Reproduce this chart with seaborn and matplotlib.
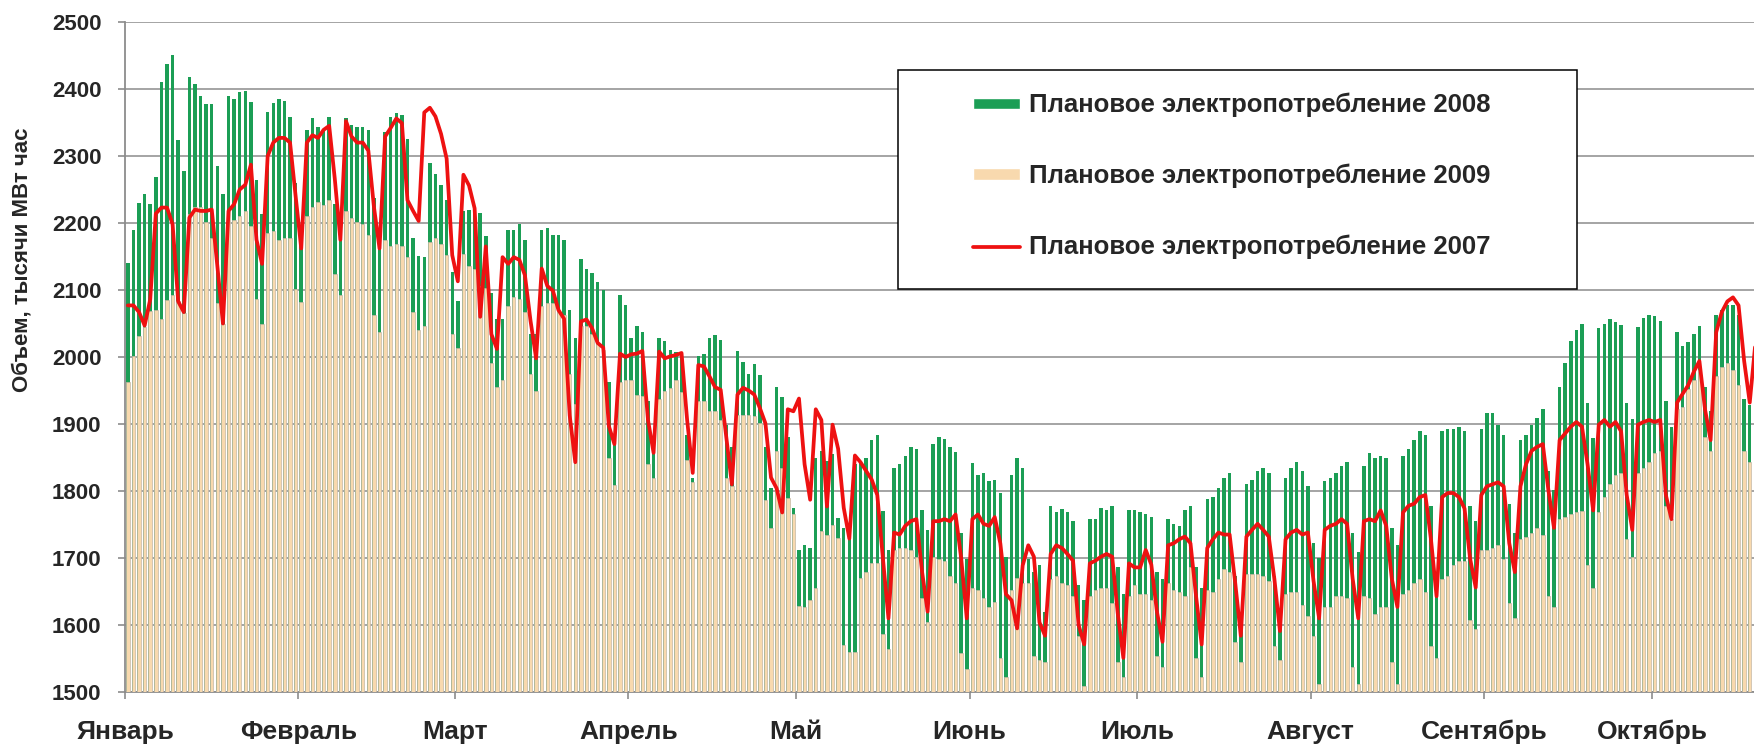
import numpy as np
import seaborn as sns
import matplotlib.pyplot as plt
from matplotlib.patches import Patch, Rectangle
from matplotlib.lines import Line2D

# Подписи месяцев и номер первого дня месяца (день 0 = 1 января)
months = ["Январь", "Февраль", "Март", "Апрель", "Май", "Июнь",
          "Июль", "Август", "Сентябрь", "Октябрь"]
month_start = [0, 31, 59, 90, 120, 151, 181, 212, 243, 273]

# Плановое электропотребление 2008 (зелёные столбцы), тыс. МВт*ч по дням
plan_2008 = [
    2140, 2189, 2230, 2243, 2229, 2269, 2411, 2438, 2451, 2324,
    2278, 2418, 2407, 2390, 2377, 2377, 2285, 2243, 2390, 2385,
    2395, 2397, 2380, 2264, 2213, 2365, 2379, 2385, 2382, 2358,
    2259, 2178, 2339, 2356, 2344, 2339, 2358, 2228, 2201, 2356,
    2346, 2343, 2343, 2339, 2237, 2182, 2336, 2358, 2364, 2361,
    2325, 2178, 2151, 2149, 2289, 2273, 2256, 2235, 2127, 2084,
    2218, 2220, 2218, 2215, 2180, 2096, 2057, 2057, 2189, 2189,
    2198, 2175, 2034, 2034, 2189, 2193, 2182, 2182, 2175, 2070,
    2029, 2146, 2131, 2125, 2112, 2100, 1962, 1880, 2092, 2077,
    2029, 2047, 2038, 1935, 1857, 2029, 2024, 2011, 2008, 2005,
    1883, 1820, 2001, 2005, 2028, 2033, 2026, 1899, 1866, 2009,
    1992, 1975, 1989, 1973, 1865, 1805, 1955, 1940, 1880, 1775,
    1712, 1719, 1715, 1850, 1860, 1845, 1855, 1760, 1745, 1735,
    1840, 1842, 1850, 1876, 1883, 1770, 1712, 1834, 1840, 1853,
    1865, 1863, 1771, 1742, 1870, 1881, 1878, 1866, 1858, 1738,
    1699, 1842, 1824, 1827, 1815, 1817, 1797, 1702, 1824, 1850,
    1834, 1699, 1679, 1690, 1620, 1778, 1768, 1773, 1768, 1755,
    1660, 1637, 1758, 1758, 1774, 1771, 1778, 1686, 1647, 1771,
    1771, 1768, 1765, 1761, 1679, 1669, 1758, 1751, 1748, 1771,
    1778, 1686, 1656, 1788, 1791, 1804, 1820, 1827, 1673, 1600,
    1811, 1817, 1830, 1834, 1827, 1673, 1607, 1820, 1834, 1843,
    1830, 1807, 1722, 1700, 1815, 1820, 1827, 1837, 1843, 1738,
    1709, 1837, 1857, 1850, 1853, 1850, 1745, 1719, 1853, 1863,
    1876, 1889, 1883, 1778, 1669, 1889, 1893, 1893, 1896, 1889,
    1778, 1755, 1893, 1916, 1916, 1899, 1883, 1781, 1738, 1876,
    1883, 1899, 1909, 1922, 1830, 1801, 1955, 1991, 2024, 2040,
    2050, 1932, 1879, 2044, 2050, 2057, 2052, 2048, 1932, 1907,
    2045, 2058, 2063, 2061, 2053, 1935, 1896, 2037, 2017, 2023,
    2034, 2047, 1955, 1920, 2063, 2070, 2077, 2077, 2063, 1938,
    1929,
]

# Плановое электропотребление 2009 (бежевые столбцы)
plan_2009 = [
    1962, 2001, 2032, 2045, 2068, 2070, 2057, 2085, 2093, 2083,
    2065, 2214, 2224, 2224, 2201, 2178, 2080, 2050, 2218, 2205,
    2211, 2218, 2195, 2086, 2050, 2185, 2188, 2175, 2178, 2178,
    2101, 2082, 2211, 2224, 2232, 2227, 2235, 2124, 2092, 2218,
    2208, 2201, 2198, 2182, 2063, 2038, 2175, 2165, 2168, 2165,
    2149, 2067, 2040, 2047, 2172, 2178, 2168, 2152, 2035, 2014,
    2153, 2136, 2132, 2106, 2103, 1991, 1955, 1965, 2076, 2090,
    2086, 2067, 1975, 1950, 2076, 2080, 2080, 2070, 2063, 1975,
    1930, 2047, 2047, 2034, 2021, 2011, 1850, 1809, 1962, 1966,
    1966, 1944, 1942, 1840, 1820, 1938, 1950, 1953, 1965, 1948,
    1847, 1813, 1935, 1935, 1920, 1920, 1906, 1820, 1807, 1914,
    1914, 1914, 1912, 1902, 1787, 1745, 1860, 1835, 1790, 1765,
    1629, 1627, 1637, 1655, 1740, 1735, 1750, 1730, 1570, 1560,
    1560, 1670, 1679, 1692, 1692, 1587, 1564, 1712, 1715, 1715,
    1712, 1702, 1640, 1604, 1702, 1699, 1696, 1673, 1663, 1558,
    1535, 1656, 1653, 1640, 1627, 1634, 1551, 1522, 1653, 1670,
    1663, 1663, 1554, 1548, 1545, 1669, 1673, 1663, 1660, 1643,
    1584, 1509, 1643, 1653, 1656, 1656, 1633, 1545, 1522, 1643,
    1660, 1646, 1646, 1637, 1554, 1538, 1663, 1653, 1650, 1643,
    1686, 1551, 1522, 1653, 1650, 1669, 1683, 1679, 1574, 1545,
    1676, 1676, 1676, 1673, 1666, 1568, 1548, 1646, 1650, 1650,
    1630, 1614, 1584, 1512, 1627, 1627, 1643, 1643, 1640, 1538,
    1512, 1643, 1640, 1617, 1627, 1627, 1545, 1512, 1646, 1653,
    1663, 1669, 1650, 1568, 1551, 1669, 1673, 1689, 1696, 1696,
    1607, 1594, 1712, 1712, 1715, 1719, 1699, 1633, 1610, 1728,
    1732, 1738, 1745, 1735, 1643, 1627, 1758, 1761, 1765, 1768,
    1770, 1689, 1656, 1768, 1791, 1811, 1824, 1827, 1728, 1702,
    1827, 1834, 1843, 1857, 1860, 1778, 1758, 1922, 1926, 1952,
    1965, 1980, 1880, 1860, 1971, 1985, 1991, 1981, 1958, 1860,
    1843,
]

# Плановое электропотребление 2007 (красная линия)
plan_2007 = [
    2077, 2077, 2067, 2047, 2086, 2214, 2223, 2223, 2198, 2083,
    2067, 2208, 2220, 2218, 2218, 2220, 2136, 2050, 2218, 2228,
    2250, 2257, 2287, 2175, 2139, 2300, 2320, 2327, 2327, 2320,
    2240, 2162, 2320, 2331, 2327, 2339, 2345, 2266, 2175, 2352,
    2329, 2320, 2320, 2308, 2224, 2162, 2329, 2342, 2356, 2349,
    2234, 2218, 2203, 2365, 2372, 2359, 2333, 2296, 2152, 2113,
    2272, 2256, 2222, 2060, 2165, 2034, 2012, 2149, 2139, 2149,
    2145, 2122, 2054, 1998, 2132, 2106, 2099, 2070, 2057, 1913,
    1843, 2053, 2056, 2043, 2021, 2014, 1897, 1870, 2005, 2000,
    2004, 2005, 2009, 1906, 1857, 2008, 1998, 2001, 2003, 2006,
    1906, 1827, 1988, 1986, 1971, 1955, 1951, 1880, 1810, 1944,
    1954, 1950, 1944, 1924, 1901, 1820, 1804, 1768, 1922, 1919,
    1938, 1840, 1787, 1922, 1906, 1777, 1899, 1863, 1775, 1729,
    1853, 1843, 1830, 1817, 1794, 1700, 1610, 1738, 1735, 1748,
    1755, 1758, 1680, 1620, 1755, 1755, 1758, 1755, 1765, 1700,
    1610, 1758, 1765, 1751, 1748, 1761, 1722, 1646, 1637, 1595,
    1689, 1719, 1702, 1604, 1584, 1706, 1719, 1715, 1706, 1696,
    1600, 1571, 1692, 1696, 1702, 1706, 1702, 1617, 1551, 1692,
    1686, 1686, 1712, 1690, 1620, 1575, 1719, 1722, 1728, 1732,
    1722, 1643, 1571, 1715, 1728, 1738, 1735, 1735, 1663, 1584,
    1732, 1742, 1751, 1742, 1732, 1669, 1591, 1728, 1738, 1742,
    1735, 1738, 1666, 1610, 1742, 1748, 1751, 1758, 1751, 1669,
    1610, 1755, 1758, 1755, 1771, 1748, 1669, 1627, 1768, 1778,
    1781, 1791, 1794, 1728, 1643, 1791, 1797, 1797, 1791, 1774,
    1699, 1656, 1794, 1807, 1810, 1813, 1807, 1722, 1679, 1807,
    1840, 1860, 1866, 1870, 1801, 1745, 1876, 1886, 1896, 1903,
    1896, 1840, 1771, 1899, 1906, 1896, 1903, 1889, 1794, 1742,
    1899, 1903, 1906, 1903, 1906, 1794, 1758, 1932, 1945, 1958,
    1978, 1994, 1922, 1876, 2037, 2067, 2083, 2089, 2077, 1994,
    1932, 2020,
]

labels = ["Плановое электропотребление 2008",
          "Плановое электропотребление 2009",
          "Плановое электропотребление 2007"]

GREEN = "#1b9e55"
BEIGE = "#f8d9ae"
RED = "#ee1111"
GRID = "#8c8c8c"

sns.set_theme(style="white")
plt.rcParams["font.family"] = ["Liberation Sans", "DejaVu Sans"]
plt.rcParams["font.weight"] = "bold"

fig = plt.figure(figsize=(17.54, 7.45), dpi=100)
ax = fig.add_axes([0.0713, 0.0711, 0.9287, 0.8994])

days = np.arange(len(plan_2008))
sns.barplot(x=days, y=plan_2008, color=GREEN, saturation=1, width=0.62,
            errorbar=None, linewidth=0, ax=ax, zorder=2)
sns.barplot(x=days, y=plan_2009, color=BEIGE, saturation=1, width=0.62,
            errorbar=None, edgecolor="#c4b8a6", linewidth=0.5, ax=ax, zorder=3)
sns.lineplot(x=np.arange(len(plan_2007)), y=plan_2007, color=RED,
             linewidth=2.7, ax=ax, zorder=4)

# оси
ax.set_ylim(1500, 2500)
ax.set_xlim(-0.5, 290.76)
ax.set_yticks(range(1500, 2501, 100))
ax.set_xticks([d - 0.5 for d in month_start])
ax.set_xticklabels(months)
ax.tick_params(axis="y", labelsize=16, length=5, width=1.2, color=GRID,
               pad=12, left=True)
ax.tick_params(axis="x", labelsize=19, length=5, width=1.2, color=GRID,
               pad=15, bottom=True)
for lab in ax.get_xticklabels() + ax.get_yticklabels():
    lab.set_fontweight("bold")

ax.set_axisbelow(True)
ax.grid(axis="y", color=GRID, linewidth=1.1)
ax.grid(axis="x", visible=False)
for side in ["top", "right"]:
    ax.spines[side].set_visible(False)
for side in ["left", "bottom"]:
    ax.spines[side].set_color(GRID)
    ax.spines[side].set_linewidth(1.3)

ax.set_xlabel("")
ax.set_ylabel("Объем, тысячи МВт час", fontsize=16, fontweight="bold")
ax.yaxis.set_label_coords(-0.057, 0.645)

# легенда в рамке
ax.add_patch(Rectangle((0.4745, 0.6015), 0.4168, 0.3265, transform=ax.transAxes,
                       facecolor="white", edgecolor="black", linewidth=1.1,
                       zorder=5))
handles = [Patch(facecolor=GREEN), Patch(facecolor=BEIGE),
           Line2D([], [], color=RED, linewidth=2.7)]
leg = ax.legend(handles, labels, loc="upper left", bbox_to_anchor=(0.5206, 0.894),
                frameon=False, borderpad=0, borderaxespad=0,
                prop={"size": 18.5, "weight": "bold"},
                handlelength=1.83, handleheight=0.3, handletextpad=0.35,
                labelspacing=1.8)
leg.set_zorder(6)

fig.savefig("out.png", dpi=100)
